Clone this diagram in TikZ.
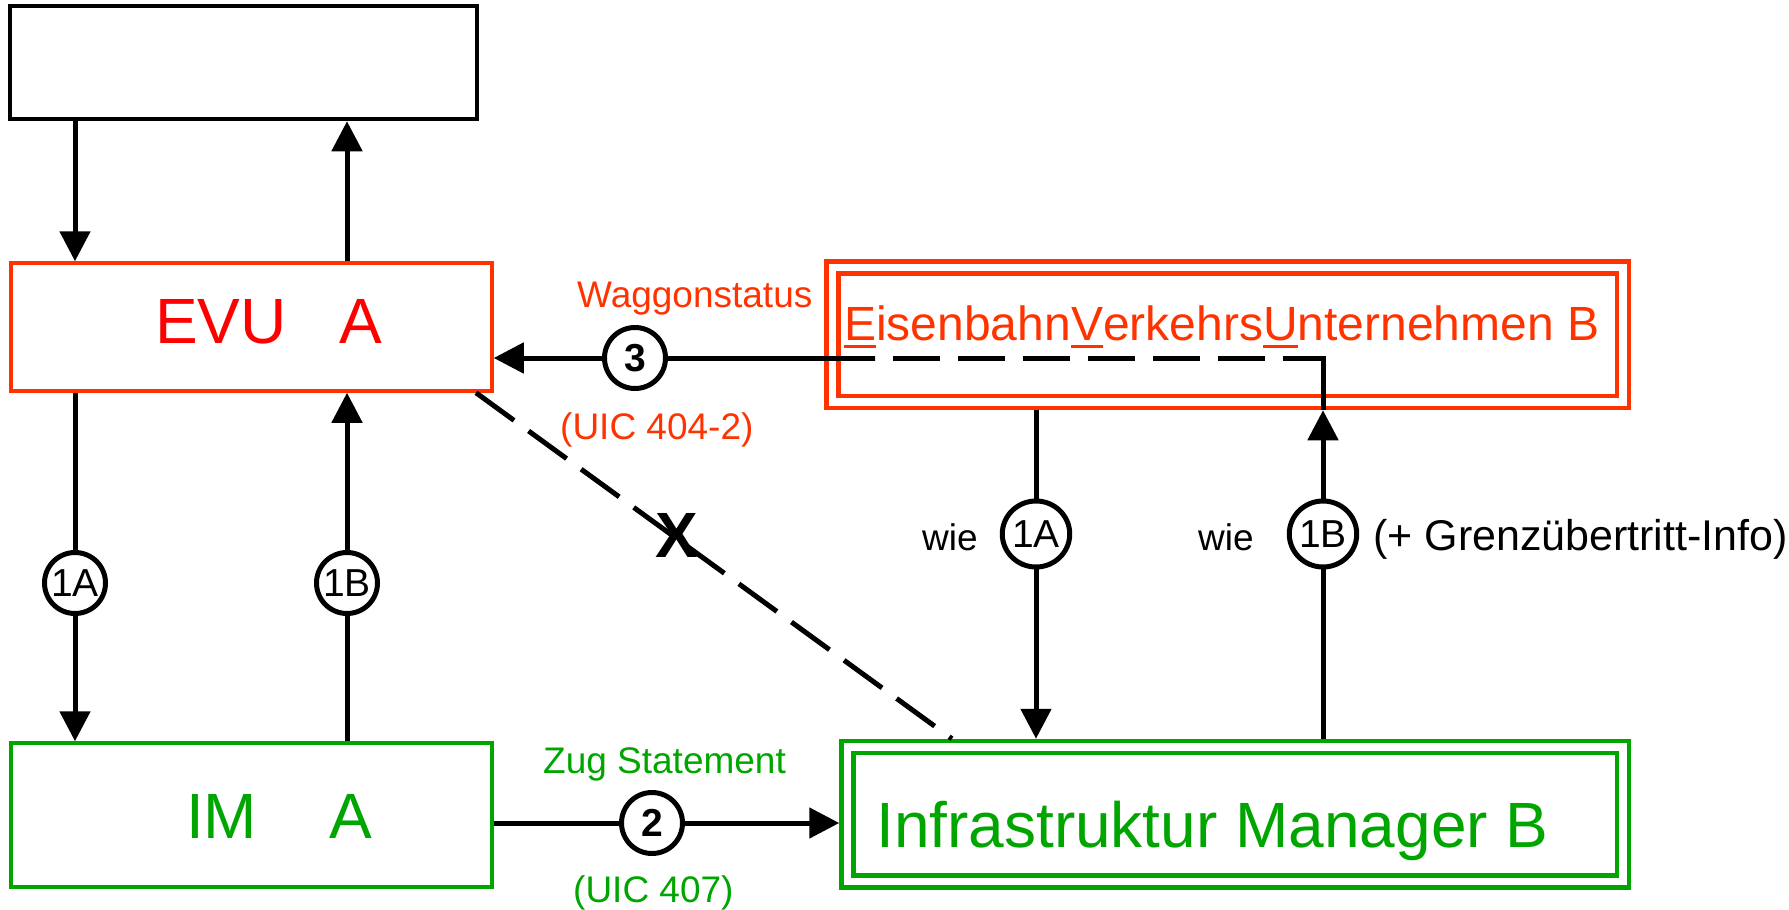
\documentclass[tikz,border=0pt]{standalone}
\usepackage{fontspec}
\setmainfont{Liberation Sans}
\usetikzlibrary{arrows.meta,shapes.geometric}
\definecolor{evured}{RGB}{255,51,0}
\definecolor{purered}{RGB}{255,0,0}
\definecolor{imgreen}{RGB}{0,165,0}
\newcommand\myul[1]{\setbox0\hbox{#1}\rlap{\rule[-0.17em]{\wd0}{0.065em}}\box0}
\begin{document}
\begin{tikzpicture}[x=1pt,y=-1pt,
  conn/.style={line width=5pt,draw=black},
  arr/.style={conn,-{Triangle[length=30pt,width=30pt]}},
  dline/.style={conn,dash pattern=on 47pt off 18pt},
  circ/.style={circle,draw=black,fill=white,line width=5pt,minimum size=61pt,inner sep=0pt,font=\fontsize{39}{42}\selectfont},
  ellcirc/.style={ellipse,draw=black,fill=white,line width=5pt,minimum width=62pt,minimum height=66pt,inner sep=0pt,font=\fontsize{39}{42}\selectfont},
  boldcirc/.style={circ,font=\bfseries\fontsize{39}{42}\selectfont},
  lbl/.style={inner sep=0pt,anchor=base west},
  small/.style={font=\fontsize{37}{40}\selectfont},
  big/.style={font=\fontsize{64}{70}\selectfont},
  dbox/.style={rectangle,double,double distance=7.5pt,line width=4.5pt,outer sep=8.25pt,inner sep=0pt}]
\useasboundingbox (0,0) rectangle (1789,910);

% boxes
\node[draw=black,line width=4.5pt,minimum width=467pt,minimum height=113pt,inner sep=0pt] (top) at (243.5,62.5) {};
\node[draw=evured,line width=3.5pt,minimum width=481pt,minimum height=128pt,inner sep=0pt] (evua) at (251.5,327) {};
\node[draw=imgreen,line width=3.5pt,minimum width=481pt,minimum height=144pt,inner sep=0pt] (ima) at (251.5,815) {};
\node[dbox,draw=evured,minimum width=790.5pt,minimum height=134.5pt] (evub) at (1227.75,334.75) {};
\node[dbox,draw=imgreen,minimum width=775.5pt,minimum height=134.5pt] (imb) at (1235.25,814.25) {};

% helper coordinates
\coordinate (xL) at (75,0);
\coordinate (xR) at (347,0);
\coordinate (xA) at (1036,0);
\coordinate (xB) at (1323,0);
\coordinate (y3) at (0,358);
\coordinate (y2) at (0,823);
\coordinate (dA) at (476,0);
\coordinate (dB) at (952,0);
\coordinate (dmid) at (875,358);
\coordinate (dstart) at (1265,358);

% connectors
\draw[arr] (top.south -| xL) -- (evua.north -| xL);
\draw[arr] (evua.north -| xR) -- (top.south -| xR);
\draw[arr] (evua.south -| xL) -- (ima.north -| xL);
\draw[arr] (ima.north -| xR) -- (evua.south -| xR);
\draw[arr] (ima.east |- y2) -- (imb.west |- y2);
\draw[arr] (evub.south -| xA) -- (imb.north -| xA);
\draw[arr] (imb.north -| xB) -- (evub.south -| xB);
\draw[conn] (evub.south -| xB) -- (xB |- y3) coordinate (corner) -- ++(-40,0);
\draw[dline] (dstart) -- (dmid);
\draw[arr] (dmid) -- (evua.east |- y3);
\draw[dline] (evua.south -| dA) -- (imb.north -| dB);

% circles
\node[circ] (c1Al) at (75,583) {1A};
\node[circ] (c1Bl) at (347,583) {1B};
\node[ellcirc] (c1Ar) at (1036,534) {1A};
\node[ellcirc] (c1Br) at (1323,534) {1B};
\node[boldcirc] (c3) at (635,358) {3};
\node[boldcirc] (c2) at (652,823) {2};

% labels
\node[lbl,big,text=purered] (tevua) at (155,343) {EVU\hspace{53pt}A};
\node[lbl,big,text=imgreen] (tima) at (186,838) {IM\hspace{72pt}A};
\node[lbl,text=evured,font=\fontsize{48}{52}\selectfont] (tevub) at (844,340) {\myul{E}isenbahn\myul{V}erkehrs\myul{U}nternehmen B};
\node[lbl,big,text=imgreen] (timb) at (876,847) {Infrastruktur Manager B};
\node[lbl,small,text=evured] (wagg) at (577,307) {Waggonstatus};
\node[lbl,small,text=evured] (uic404) at (560,439) {(UIC 404-2)};
\node[lbl,small,text=imgreen] (zug) at (543,773) {Zug Statement};
\node[lbl,small,text=imgreen] (uic407) at (573,902) {(UIC 407)};
\node[lbl,small] (wie1) at (922,550) {wie};
\node[lbl,small] (wie2) at (1198,550) {wie};
\node[lbl,font=\fontsize{43}{46}\selectfont] (grenz) at (1373,550) {(+ Grenzübertritt-Info)};
\node[inner sep=0pt,font=\bfseries\fontsize{64}{66}\selectfont] (xmark) at (677,535) {X};
\end{tikzpicture}
\end{document}
